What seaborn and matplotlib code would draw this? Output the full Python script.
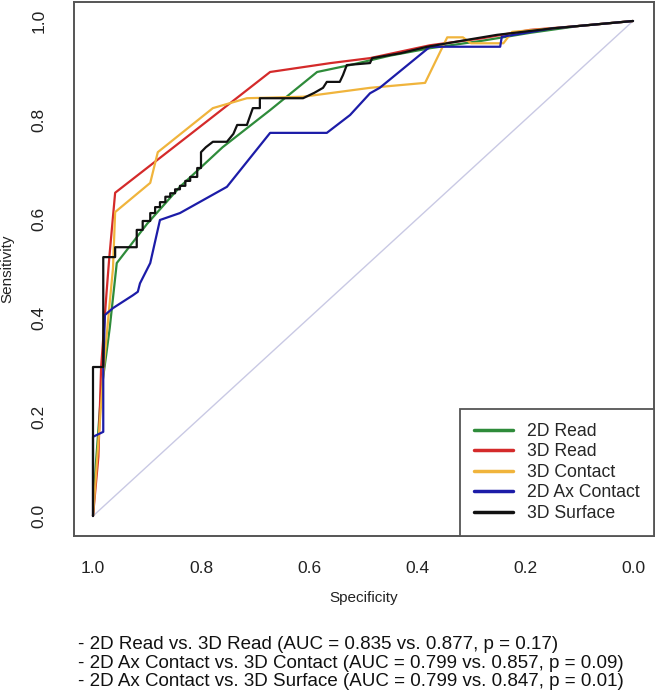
import numpy as np
import pandas as pd
import matplotlib
matplotlib.use("Agg")
import matplotlib.pyplot as plt
import seaborn as sns

# ---- data (specificity, sensitivity) ----
read2d_spec = [1.0, 0.995, 0.985, 0.975, 0.969, 0.956, 0.90, 0.839, 0.76, 0.672, 0.585, 0.524, 0.45, 0.376, 0.28, 0.191, 0.10, 0.0]
read2d_sens = [0.0, 0.10, 0.25, 0.33, 0.38, 0.511, 0.59, 0.665, 0.745, 0.820, 0.897, 0.911, 0.93, 0.945, 0.96, 0.976, 0.99, 1.0]

read3d_spec = [1.0, 0.99, 0.985, 0.975, 0.97, 0.959, 0.82, 0.672, 0.56, 0.487, 0.376, 0.28, 0.191, 0.10, 0.0]
read3d_sens = [0.0, 0.12, 0.30, 0.45, 0.52, 0.653, 0.771, 0.897, 0.915, 0.925, 0.951, 0.965, 0.982, 0.99, 1.0]

contact3d_spec = [1.0, 0.99, 0.98, 0.97, 0.963, 0.959, 0.894, 0.880, 0.778, 0.715, 0.611, 0.487, 0.385, 0.344, 0.315, 0.30, 0.24, 0.224, 0.10, 0.0]
contact3d_sens = [0.0, 0.15, 0.30, 0.42, 0.50, 0.614, 0.673, 0.735, 0.824, 0.844, 0.847, 0.865, 0.875, 0.967, 0.967, 0.955, 0.955, 0.978, 0.99, 1.0]

axcontact2d_spec = [1.0, 1.0, 0.981, 0.981, 0.978, 0.963, 0.926, 0.917, 0.913, 0.894, 0.876, 0.839, 0.752, 0.672, 0.567, 0.524, 0.487, 0.469, 0.376, 0.246, 0.243, 0.15, 0.0]
axcontact2d_sens = [0.0, 0.16, 0.17, 0.30, 0.406, 0.420, 0.446, 0.453, 0.470, 0.511, 0.598, 0.612, 0.665, 0.774, 0.774, 0.810, 0.854, 0.865, 0.948, 0.948, 0.968, 0.985, 1.0]

surface3d_spec = [1.000, 1.000, 0.981, 0.981, 0.959, 0.959, 0.919, 0.919, 0.908, 0.908, 0.894, 0.894,
                  0.885, 0.885, 0.876, 0.876, 0.866, 0.866, 0.857, 0.857, 0.848, 0.848, 0.839, 0.839,
                  0.829, 0.829, 0.820, 0.820, 0.807, 0.807, 0.800, 0.800, 0.791, 0.778, 0.752, 0.740,
                  0.733, 0.715, 0.704, 0.691, 0.691, 0.611, 0.590, 0.574, 0.567, 0.543, 0.537, 0.530,
                  0.487, 0.483, 0.430, 0.381, 0.307, 0.252, 0.150, 0.000]
surface3d_sens = [0.000, 0.301, 0.301, 0.523, 0.523, 0.543, 0.543, 0.578, 0.578, 0.596, 0.596, 0.612,
                  0.612, 0.624, 0.624, 0.634, 0.634, 0.645, 0.645, 0.652, 0.652, 0.660, 0.660, 0.667,
                  0.667, 0.677, 0.677, 0.685, 0.685, 0.703, 0.703, 0.735, 0.745, 0.756, 0.756, 0.772,
                  0.790, 0.790, 0.824, 0.824, 0.844, 0.844, 0.855, 0.865, 0.877, 0.877, 0.891, 0.911,
                  0.915, 0.925, 0.935, 0.948, 0.962, 0.972, 0.985, 1.000]

diag_spec = [1.0, 0.0]
diag_sens = [0.0, 1.0]

series_names = ["2D Read", "3D Read", "3D Contact", "2D Ax Contact", "3D Surface"]
series_colors = ["#2E8B3A", "#D42A2A", "#F0B43C", "#1C1CA8", "#111111"]

x_ticks = [1.0, 0.8, 0.6, 0.4, 0.2, 0.0]
y_ticks = [0.0, 0.2, 0.4, 0.6, 0.8, 1.0]
tick_labels_x = ["1.0", "0.8", "0.6", "0.4", "0.2", "0.0"]
tick_labels_y = ["0.0", "0.2", "0.4", "0.6", "0.8", "1.0"]

notes = [
    "- 2D Read vs. 3D Read (AUC = 0.835 vs. 0.877, p = 0.17)",
    "- 2D Ax Contact vs. 3D Contact (AUC = 0.799 vs. 0.857, p = 0.09)",
    "- 2D Ax Contact vs. 3D Surface (AUC = 0.799 vs. 0.847, p = 0.01)",
]

# ---- build long table ----
frames = []
for name, sp, se in zip(series_names,
                        [read2d_spec, read3d_spec, contact3d_spec, axcontact2d_spec, surface3d_spec],
                        [read2d_sens, read3d_sens, contact3d_sens, axcontact2d_sens, surface3d_sens]):
    frames.append(pd.DataFrame({"Specificity": sp, "Sensitivity": se, "curve": name}))
df = pd.concat(frames, ignore_index=True)
diag_df = pd.DataFrame({"Specificity": diag_spec, "Sensitivity": diag_sens})

sns.set_style("white")
plt.rcParams['font.family'] = ['Liberation Sans', 'DejaVu Sans']

W, H = 657, 691
fig = plt.figure(figsize=(W / 100, H / 100), dpi=100)
ax = fig.add_axes([74 / W, 1 - 536 / H, 580 / W, 534 / H])

sns.lineplot(data=diag_df, x="Specificity", y="Sensitivity", sort=False, estimator=None,
             color="#C9C9E4", linewidth=1.0, ax=ax, legend=False)
sns.lineplot(data=df, x="Specificity", y="Sensitivity", hue="curve", hue_order=series_names,
             palette=series_colors, sort=False, estimator=None, units="curve",
             linewidth=1.6, ax=ax)

ax.set_xlim(1.0 + 19 / 540, -21 / 540)
ax.set_ylim(-20 / 495, 1.0 + 19 / 495)
ax.set_xticks(x_ticks)
ax.set_xticklabels(tick_labels_x)
ax.set_yticks(y_ticks)
ax.set_yticklabels(tick_labels_y, rotation=90, va="center")
ax.tick_params(axis="both", direction="out", length=8, width=1.3, color="#555555",
               labelsize=12.5, pad=12, labelcolor="#222222")
ax.tick_params(axis="x", pad=10)
for sp in ax.spines.values():
    sp.set_visible(True)
    sp.set_color("#555555")
    sp.set_linewidth(1.4)
ax.set_xlabel("Specificity", fontsize=11, labelpad=11, color="#222222")
ax.set_ylabel("Sensitivity", fontsize=11, labelpad=12, color="#222222")

handles, labels = ax.get_legend_handles_labels()
leg = ax.legend(handles, labels, loc="lower right", bbox_to_anchor=(1.0, 0.0),
                borderaxespad=0.0, frameon=True, fancybox=False, fontsize=12.7,
                handlelength=2.2, handletextpad=0.8, labelspacing=0.2, borderpad=0.8,
                framealpha=1.0)
leg.get_frame().set_edgecolor("#555555")
leg.get_frame().set_linewidth(1.3)
for line in leg.get_lines():
    line.set_linewidth(2.5)

for i, t in enumerate(notes):
    fig.text(78 / W, 1 - (649 + i * 18.5) / H, t, fontsize=13.5, color="#111111",
             ha="left", va="baseline")

fig.savefig("out.png", dpi=100)
